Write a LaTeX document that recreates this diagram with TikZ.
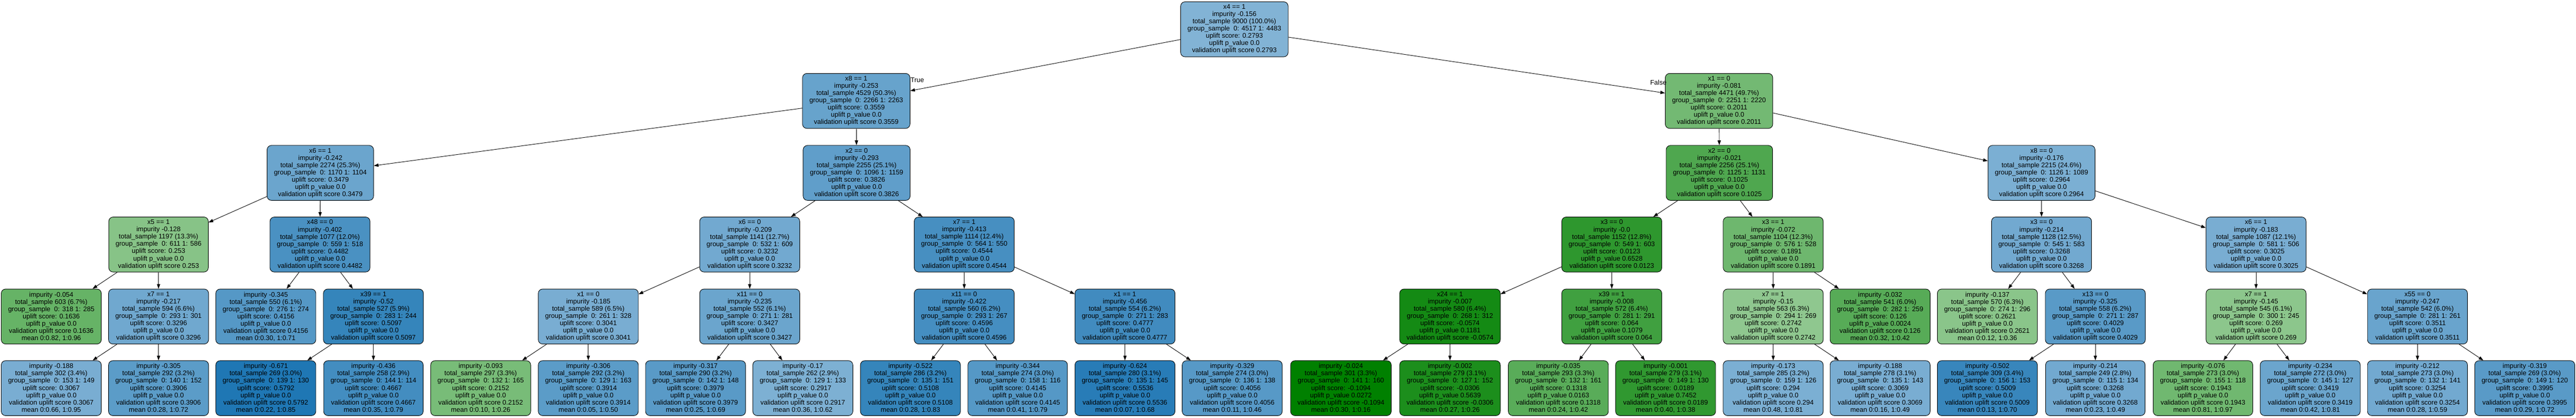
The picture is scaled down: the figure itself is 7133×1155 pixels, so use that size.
\documentclass[tikz,border=0pt]{standalone}
\usepackage{fontspec}
\setmainfont{Liberation Sans}
\usetikzlibrary{arrows.meta}
\definecolor{upblue}{RGB}{31,119,180}
\definecolor{upgreen}{RGB}{0,128,0}
\tikzset{
  treenode/.style={draw, line width=1.3pt, rounded corners=12pt, align=center,
    minimum height=152pt, inner xsep=19pt, inner ysep=0pt,
    font=\fontsize{18.5}{20}\selectfont},
  branch/.style={line width=1.3pt, -{Triangle[length=13pt,width=9pt]}},
  lbl/.style={inner sep=0pt, font=\fontsize{18.5}{20}\selectfont},
}
\begin{document}
\begin{tikzpicture}[x=1pt,y=-1pt]
  \useasboundingbox (0,0) rectangle (7133,1155);
  % level 0 and 1
  \node[treenode, fill=upblue!56] (root) at (3418,81)
    {x4 == 1\\impurity -0.156\\total\_sample 9000 (100.0\%)\\group\_sample\ \ 0: 4517 1: 4483\\uplift score: 0.2793\\uplift p\_value 0.0\\validation uplift score 0.2793};
  \node[treenode, fill=upblue!68] (t) at (2371,279)
    {x8 == 1\\impurity -0.253\\total\_sample 4529 (50.3\%)\\group\_sample\ \ 0: 2266 1: 2263\\uplift score: 0.3559\\uplift p\_value 0.0\\validation uplift score 0.3559};
  \node[treenode, fill=upgreen!55] (f) at (4760,279)
    {x1 == 0\\impurity -0.081\\total\_sample 4471 (49.7\%)\\group\_sample\ \ 0: 2251 1: 2220\\uplift score: 0.2011\\uplift p\_value 0.0\\validation uplift score 0.2011};
  \node[lbl] (truelbl) at (2540,221) {True};
  \node[lbl] (falselbl) at (4592,228) {False};
  % level 2
  \node[treenode, fill=upblue!66] (tt) at (887,478)
    {x6 == 1\\impurity -0.242\\total\_sample 2274 (25.3\%)\\group\_sample\ \ 0: 1170 1: 1104\\uplift score: 0.3479\\uplift p\_value 0.0\\validation uplift score 0.3479};
  \node[treenode, fill=upblue!71] (tf) at (2372,478)
    {x2 == 0\\impurity -0.293\\total\_sample 2255 (25.1\%)\\group\_sample\ \ 0: 1096 1: 1159\\uplift score: 0.3826\\uplift p\_value 0.0\\validation uplift score 0.3826};
  \node[treenode, fill=upgreen!69] (ft) at (4761,478)
    {x2 == 0\\impurity -0.021\\total\_sample 2256 (25.1\%)\\group\_sample\ \ 0: 1125 1: 1131\\uplift score: 0.1025\\uplift p\_value 0.0\\validation uplift score 0.1025};
  \node[treenode, fill=upblue!59] (ff) at (5653,478)
    {x8 == 0\\impurity -0.176\\total\_sample 2215 (24.6\%)\\group\_sample\ \ 0: 1126 1: 1089\\uplift score: 0.2964\\uplift p\_value 0.0\\validation uplift score 0.2964};
  % level 3
  \node[treenode, fill=upgreen!47] (ttt) at (439,676)
    {x5 == 1\\impurity -0.128\\total\_sample 1197 (13.3\%)\\group\_sample\ \ 0: 611 1: 586\\uplift score: 0.253\\uplift p\_value 0.0\\validation uplift score 0.253};
  \node[treenode, fill=upblue!81] (ttf) at (886,676)
    {x48 == 0\\impurity -0.402\\total\_sample 1077 (12.0\%)\\group\_sample\ \ 0: 559 1: 518\\uplift score: 0.4482\\uplift p\_value 0.0\\validation uplift score 0.4482};
  \node[treenode, fill=upblue!63] (tft) at (2076,676)
    {x6 == 0\\impurity -0.209\\total\_sample 1141 (12.7\%)\\group\_sample\ \ 0: 532 1: 609\\uplift score: 0.3232\\uplift p\_value 0.0\\validation uplift score 0.3232};
  \node[treenode, fill=upblue!82] (tff) at (2670,676)
    {x7 == 1\\impurity -0.413\\total\_sample 1114 (12.4\%)\\group\_sample\ \ 0: 564 1: 550\\uplift score: 0.4544\\uplift p\_value 0.0\\validation uplift score 0.4544};
  \node[treenode, fill=upgreen!82] (ftt) at (4463,676)
    {x3 == 0\\impurity -0.0\\total\_sample 1152 (12.8\%)\\group\_sample\ \ 0: 549 1: 603\\uplift score: 0.0123\\uplift p\_value 0.6528\\validation uplift score 0.0123};
  \node[treenode, fill=upgreen!57] (ftf) at (4910,676)
    {x3 == 1\\impurity -0.072\\total\_sample 1104 (12.3\%)\\group\_sample\ \ 0: 576 1: 528\\uplift score: 0.1891\\uplift p\_value 0.0\\validation uplift score 0.1891};
  \node[treenode, fill=upblue!63] (fft) at (5653,676)
    {x3 == 0\\impurity -0.214\\total\_sample 1128 (12.5\%)\\group\_sample\ \ 0: 545 1: 583\\uplift score: 0.3268\\uplift p\_value 0.0\\validation uplift score 0.3268};
  \node[treenode, fill=upblue!60] (fff) at (6247,676)
    {x6 == 1\\impurity -0.183\\total\_sample 1087 (12.1\%)\\group\_sample\ \ 0: 581 1: 506\\uplift score: 0.3025\\uplift p\_value 0.0\\validation uplift score 0.3025};
  % level 4
  \node[treenode, fill=upgreen!60] (tttt) at (142,875)
    {impurity -0.054\\total\_sample 603 (6.7\%)\\group\_sample\ \ 0: 318 1: 285\\uplift score: 0.1636\\uplift p\_value 0.0\\validation uplift score 0.1636\\mean 0:0.82, 1:0.96};
  \node[treenode, fill=upblue!64] (tttf) at (439,875)
    {x7 == 1\\impurity -0.217\\total\_sample 594 (6.6\%)\\group\_sample\ \ 0: 293 1: 301\\uplift score: 0.3296\\uplift p\_value 0.0\\validation uplift score 0.3296};
  \node[treenode, fill=upblue!76] (ttft) at (736,875)
    {impurity -0.345\\total\_sample 550 (6.1\%)\\group\_sample\ \ 0: 276 1: 274\\uplift score: 0.4156\\uplift p\_value 0.0\\validation uplift score 0.4156\\mean 0:0.30, 1:0.71};
  \node[treenode, fill=upblue!90] (ttff) at (1034,875)
    {x39 == 1\\impurity -0.52\\total\_sample 527 (5.9\%)\\group\_sample\ \ 0: 283 1: 244\\uplift score: 0.5097\\uplift p\_value 0.0\\validation uplift score 0.5097};
  \node[treenode, fill=upblue!60] (tftt) at (1629,875)
    {x1 == 0\\impurity -0.185\\total\_sample 589 (6.5\%)\\group\_sample\ \ 0: 261 1: 328\\uplift score: 0.3041\\uplift p\_value 0.0\\validation uplift score 0.3041};
  \node[treenode, fill=upblue!66] (tftf) at (2076,875)
    {x11 == 0\\impurity -0.235\\total\_sample 552 (6.1\%)\\group\_sample\ \ 0: 271 1: 281\\uplift score: 0.3427\\uplift p\_value 0.0\\validation uplift score 0.3427};
  \node[treenode, fill=upblue!83] (tfft) at (2670,875)
    {x11 == 0\\impurity -0.422\\total\_sample 560 (6.2\%)\\group\_sample\ \ 0: 293 1: 267\\uplift score: 0.4596\\uplift p\_value 0.0\\validation uplift score 0.4596};
  \node[treenode, fill=upblue!85] (tfff) at (3115,875)
    {x1 == 1\\impurity -0.456\\total\_sample 554 (6.2\%)\\group\_sample\ \ 0: 271 1: 283\\uplift score: 0.4777\\uplift p\_value 0.0\\validation uplift score 0.4777};
  \node[treenode, fill=upgreen!92] (fttt) at (4015,875)
    {x24 == 1\\impurity -0.007\\total\_sample 580 (6.4\%)\\group\_sample\ \ 0: 268 1: 312\\uplift score: -0.0574\\uplift p\_value 0.1181\\validation uplift score -0.0574};
  \node[treenode, fill=upgreen!75] (fttf) at (4463,875)
    {x39 == 1\\impurity -0.008\\total\_sample 572 (6.4\%)\\group\_sample\ \ 0: 281 1: 291\\uplift score: 0.064\\uplift p\_value 0.1079\\validation uplift score 0.064};
  \node[treenode, fill=upgreen!44] (ftft) at (4910,875)
    {x7 == 1\\impurity -0.15\\total\_sample 563 (6.3\%)\\group\_sample\ \ 0: 294 1: 269\\uplift score: 0.2742\\uplift p\_value 0.0\\validation uplift score 0.2742};
  \node[treenode, fill=upgreen!66] (ftff) at (5206,875)
    {impurity -0.032\\total\_sample 541 (6.0\%)\\group\_sample\ \ 0: 282 1: 259\\uplift score: 0.126\\uplift p\_value 0.0024\\validation uplift score 0.126\\mean 0:0.32, 1:0.42};
  \node[treenode, fill=upgreen!46] (fftt) at (5503,875)
    {impurity -0.137\\total\_sample 570 (6.3\%)\\group\_sample\ \ 0: 274 1: 296\\uplift score: 0.2621\\uplift p\_value 0.0\\validation uplift score 0.2621\\mean 0:0.12, 1:0.36};
  \node[treenode, fill=upblue!74] (fftf) at (5802,875)
    {x13 == 0\\impurity -0.325\\total\_sample 558 (6.2\%)\\group\_sample\ \ 0: 271 1: 287\\uplift score: 0.4029\\uplift p\_value 0.0\\validation uplift score 0.4029};
  \node[treenode, fill=upgreen!45] (ffft) at (6247,875)
    {x7 == 1\\impurity -0.145\\total\_sample 545 (6.1\%)\\group\_sample\ \ 0: 300 1: 245\\uplift score: 0.269\\uplift p\_value 0.0\\validation uplift score 0.269};
  \node[treenode, fill=upblue!67] (ffff) at (6694,875)
    {x55 == 0\\impurity -0.247\\total\_sample 542 (6.0\%)\\group\_sample\ \ 0: 281 1: 261\\uplift score: 0.3511\\uplift p\_value 0.0\\validation uplift score 0.3511};
  % level 5
  \node[treenode, fill=upblue!60] (tttft) at (142,1073)
    {impurity -0.188\\total\_sample 302 (3.4\%)\\group\_sample\ \ 0: 153 1: 149\\uplift score: 0.3067\\uplift p\_value 0.0\\validation uplift score 0.3067\\mean 0:0.66, 1:0.95};
  \node[treenode, fill=upblue!73] (tttff) at (439,1073)
    {impurity -0.305\\total\_sample 292 (3.2\%)\\group\_sample\ \ 0: 140 1: 152\\uplift score: 0.3906\\uplift p\_value 0.0\\validation uplift score 0.3906\\mean 0:0.28, 1:0.72};
  \node[treenode, fill=upblue!100] (ttfft) at (736,1073)
    {impurity -0.671\\total\_sample 269 (3.0\%)\\group\_sample\ \ 0: 139 1: 130\\uplift score: 0.5792\\uplift p\_value 0.0\\validation uplift score 0.5792\\mean 0:0.22, 1:0.85};
  \node[treenode, fill=upblue!84] (ttfff) at (1034,1073)
    {impurity -0.436\\total\_sample 258 (2.9\%)\\group\_sample\ \ 0: 144 1: 114\\uplift score: 0.4667\\uplift p\_value 0.0\\validation uplift score 0.4667\\mean 0:0.35, 1:0.79};
  \node[treenode, fill=upgreen!53] (tfttt) at (1331,1073)
    {impurity -0.093\\total\_sample 297 (3.3\%)\\group\_sample\ \ 0: 132 1: 165\\uplift score: 0.2152\\uplift p\_value 0.0\\validation uplift score 0.2152\\mean 0:0.10, 1:0.26};
  \node[treenode, fill=upblue!73] (tfttf) at (1629,1073)
    {impurity -0.306\\total\_sample 292 (3.2\%)\\group\_sample\ \ 0: 129 1: 163\\uplift score: 0.3914\\uplift p\_value 0.0\\validation uplift score 0.3914\\mean 0:0.05, 1:0.50};
  \node[treenode, fill=upblue!74] (tftft) at (1926,1073)
    {impurity -0.317\\total\_sample 290 (3.2\%)\\group\_sample\ \ 0: 142 1: 148\\uplift score: 0.3979\\uplift p\_value 0.0\\validation uplift score 0.3979\\mean 0:0.25, 1:0.69};
  \node[treenode, fill=upblue!58] (tftff) at (2223,1073)
    {impurity -0.17\\total\_sample 262 (2.9\%)\\group\_sample\ \ 0: 129 1: 133\\uplift score: 0.2917\\uplift p\_value 0.0\\validation uplift score 0.2917\\mean 0:0.36, 1:0.62};
  \node[treenode, fill=upblue!90] (tfftt) at (2521,1073)
    {impurity -0.522\\total\_sample 286 (3.2\%)\\group\_sample\ \ 0: 135 1: 151\\uplift score: 0.5108\\uplift p\_value 0.0\\validation uplift score 0.5108\\mean 0:0.28, 1:0.83};
  \node[treenode, fill=upblue!76] (tfftf) at (2818,1073)
    {impurity -0.344\\total\_sample 274 (3.0\%)\\group\_sample\ \ 0: 158 1: 116\\uplift score: 0.4145\\uplift p\_value 0.0\\validation uplift score 0.4145\\mean 0:0.41, 1:0.79};
  \node[treenode, fill=upblue!96] (tffft) at (3115,1073)
    {impurity -0.624\\total\_sample 280 (3.1\%)\\group\_sample\ \ 0: 135 1: 145\\uplift score: 0.5536\\uplift p\_value 0.0\\validation uplift score 0.5536\\mean 0:0.07, 1:0.68};
  \node[treenode, fill=upblue!75] (tffff) at (3412,1073)
    {impurity -0.329\\total\_sample 274 (3.0\%)\\group\_sample\ \ 0: 136 1: 138\\uplift score: 0.4056\\uplift p\_value 0.0\\validation uplift score 0.4056\\mean 0:0.11, 1:0.46};
  \node[treenode, fill=upgreen!100] (ftttt) at (3713,1073)
    {impurity -0.024\\total\_sample 301 (3.3\%)\\group\_sample\ \ 0: 141 1: 160\\uplift score: -0.1094\\uplift p\_value 0.0272\\validation uplift score -0.1094\\mean 0:0.30, 1:0.16};
  \node[treenode, fill=upgreen!89] (ftttf) at (4015,1073)
    {impurity -0.002\\total\_sample 279 (3.1\%)\\group\_sample\ \ 0: 127 1: 152\\uplift score: -0.0306\\uplift p\_value 0.5639\\validation uplift score -0.0306\\mean 0:0.27, 1:0.26};
  \node[treenode, fill=upgreen!65] (fttft) at (4315,1073)
    {impurity -0.035\\total\_sample 293 (3.3\%)\\group\_sample\ \ 0: 132 1: 161\\uplift score: 0.1318\\uplift p\_value 0.0163\\validation uplift score 0.1318\\mean 0:0.24, 1:0.42};
  \node[treenode, fill=upgreen!81] (fttff) at (4612,1073)
    {impurity -0.001\\total\_sample 279 (3.1\%)\\group\_sample\ \ 0: 149 1: 130\\uplift score: 0.0189\\uplift p\_value 0.7452\\validation uplift score 0.0189\\mean 0:0.40, 1:0.38};
  \node[treenode, fill=upblue!59] (ftftt) at (4910,1073)
    {impurity -0.173\\total\_sample 285 (3.2\%)\\group\_sample\ \ 0: 159 1: 126\\uplift score: 0.294\\uplift p\_value 0.0\\validation uplift score 0.294\\mean 0:0.48, 1:0.81};
  \node[treenode, fill=upblue!60] (ftftf) at (5206,1073)
    {impurity -0.188\\total\_sample 278 (3.1\%)\\group\_sample\ \ 0: 135 1: 143\\uplift score: 0.3069\\uplift p\_value 0.0\\validation uplift score 0.3069\\mean 0:0.16, 1:0.49};
  \node[treenode, fill=upblue!89] (fftft) at (5503,1073)
    {impurity -0.502\\total\_sample 309 (3.4\%)\\group\_sample\ \ 0: 156 1: 153\\uplift score: 0.5009\\uplift p\_value 0.0\\validation uplift score 0.5009\\mean 0:0.13, 1:0.70};
  \node[treenode, fill=upblue!63] (fftff) at (5802,1073)
    {impurity -0.214\\total\_sample 249 (2.8\%)\\group\_sample\ \ 0: 115 1: 134\\uplift score: 0.3268\\uplift p\_value 0.0\\validation uplift score 0.3268\\mean 0:0.23, 1:0.49};
  \node[treenode, fill=upgreen!56] (ffftt) at (6100,1073)
    {impurity -0.076\\total\_sample 273 (3.0\%)\\group\_sample\ \ 0: 155 1: 118\\uplift score: 0.1943\\uplift p\_value 0.0\\validation uplift score 0.1943\\mean 0:0.81, 1:0.97};
  \node[treenode, fill=upblue!66] (ffftf) at (6397,1073)
    {impurity -0.234\\total\_sample 272 (3.0\%)\\group\_sample\ \ 0: 145 1: 127\\uplift score: 0.3419\\uplift p\_value 0.0\\validation uplift score 0.3419\\mean 0:0.42, 1:0.81};
  \node[treenode, fill=upblue!63] (fffft) at (6694,1073)
    {impurity -0.212\\total\_sample 273 (3.0\%)\\group\_sample\ \ 0: 132 1: 141\\uplift score: 0.3254\\uplift p\_value 0.0\\validation uplift score 0.3254\\mean 0:0.28, 1:0.59};
  \node[treenode, fill=upblue!74] (fffff) at (6991,1073)
    {impurity -0.319\\total\_sample 269 (3.0\%)\\group\_sample\ \ 0: 149 1: 120\\uplift score: 0.3995\\uplift p\_value 0.0\\validation uplift score 0.3995\\mean 0:0.29, 1:0.72};
  % branches
  \draw[branch] (root) -- (t);   \draw[branch] (root) -- (f);
  \draw[branch] (t) -- (tt);     \draw[branch] (t) -- (tf);
  \draw[branch] (f) -- (ft);     \draw[branch] (f) -- (ff);
  \draw[branch] (tt) -- (ttt);   \draw[branch] (tt) -- (ttf);
  \draw[branch] (tf) -- (tft);   \draw[branch] (tf) -- (tff);
  \draw[branch] (ft) -- (ftt);   \draw[branch] (ft) -- (ftf);
  \draw[branch] (ff) -- (fft);   \draw[branch] (ff) -- (fff);
  \draw[branch] (ttt) -- (tttt); \draw[branch] (ttt) -- (tttf);
  \draw[branch] (ttf) -- (ttft); \draw[branch] (ttf) -- (ttff);
  \draw[branch] (tft) -- (tftt); \draw[branch] (tft) -- (tftf);
  \draw[branch] (tff) -- (tfft); \draw[branch] (tff) -- (tfff);
  \draw[branch] (ftt) -- (fttt); \draw[branch] (ftt) -- (fttf);
  \draw[branch] (ftf) -- (ftft); \draw[branch] (ftf) -- (ftff);
  \draw[branch] (fft) -- (fftt); \draw[branch] (fft) -- (fftf);
  \draw[branch] (fff) -- (ffft); \draw[branch] (fff) -- (ffff);
  \draw[branch] (tttf) -- (tttft); \draw[branch] (tttf) -- (tttff);
  \draw[branch] (ttff) -- (ttfft); \draw[branch] (ttff) -- (ttfff);
  \draw[branch] (tftt) -- (tfttt); \draw[branch] (tftt) -- (tfttf);
  \draw[branch] (tftf) -- (tftft); \draw[branch] (tftf) -- (tftff);
  \draw[branch] (tfft) -- (tfftt); \draw[branch] (tfft) -- (tfftf);
  \draw[branch] (tfff) -- (tffft); \draw[branch] (tfff) -- (tffff);
  \draw[branch] (fttt) -- (ftttt); \draw[branch] (fttt) -- (ftttf);
  \draw[branch] (fttf) -- (fttft); \draw[branch] (fttf) -- (fttff);
  \draw[branch] (ftft) -- (ftftt); \draw[branch] (ftft) -- (ftftf);
  \draw[branch] (fftf) -- (fftft); \draw[branch] (fftf) -- (fftff);
  \draw[branch] (ffft) -- (ffftt); \draw[branch] (ffft) -- (ffftf);
  \draw[branch] (ffff) -- (fffft); \draw[branch] (ffff) -- (fffff);
\end{tikzpicture}
\end{document}
